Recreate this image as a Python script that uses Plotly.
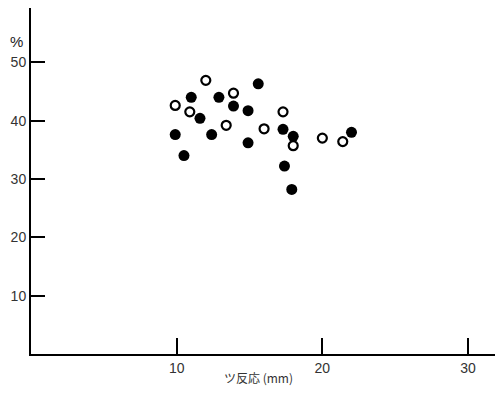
import plotly.graph_objects as go

# Open circles
open_x = [12.0, 13.9, 9.9, 10.9, 17.3, 13.4, 16.0, 18.0, 20.0, 21.4]
open_y = [46.9, 44.7, 42.6, 41.5, 41.5, 39.2, 38.6, 35.7, 37.0, 36.4]
# Filled circles
fill_x = [15.6, 11.0, 12.9, 13.9, 14.9, 11.6, 9.9, 12.4, 17.3, 18.0, 22.0, 14.9, 10.5, 17.4, 17.9]
fill_y = [46.3, 44.0, 44.0, 42.5, 41.7, 40.4, 37.6, 37.6, 38.5, 37.3, 38.0, 36.2, 34.0, 32.2, 28.2]

x_ticks = [10, 20, 30]
y_ticks = [10, 20, 30, 40, 50]
x_title = "ツ反応 (mm)"
y_unit = "%"

tick_font = dict(family="Liberation Sans Narrow, Liberation Sans, Arial", size=14, color="#333")

fig = go.Figure()
fig.add_trace(go.Scatter(x=fill_x, y=fill_y, mode="markers",
                         marker=dict(size=11, color="black", line=dict(width=0)),
                         showlegend=False))
fig.add_trace(go.Scatter(x=open_x, y=open_y, mode="markers",
                         marker=dict(size=9, color="white", line=dict(width=2.2, color="black")),
                         showlegend=False))

fig.update_layout(
    width=503, height=401,
    margin=dict(l=23, r=0, t=0, b=55, autoexpand=False),
    paper_bgcolor="white", plot_bgcolor="white",
    xaxis=dict(range=[0, 32.95], tickvals=x_ticks, ticks="inside", ticklen=16, tickwidth=2,
               tickcolor="black", showline=True, linecolor="black", linewidth=2,
               showgrid=False, zeroline=False, tickfont=tick_font, automargin=False),
    yaxis=dict(range=[0, 59.3], tickvals=y_ticks, ticks="inside", ticklen=14, tickwidth=2,
               tickcolor="black", showline=True, linecolor="black", linewidth=2,
               showgrid=False, zeroline=False, tickfont=tick_font, automargin=False),
    annotations=[
        dict(text=y_unit, x=0, y=53.5, xref="x", yref="y", xanchor="right", xshift=-6,
             showarrow=False, font=dict(family="Liberation Sans", size=15, color="#222")),
        dict(text=x_title, x=15.6, y=0, xref="x", yref="paper", yshift=-34,
             showarrow=False, font=dict(family="Noto Sans CJK JP", size=12, color="#333")),
    ],
)

fig.write_html("out.html")
